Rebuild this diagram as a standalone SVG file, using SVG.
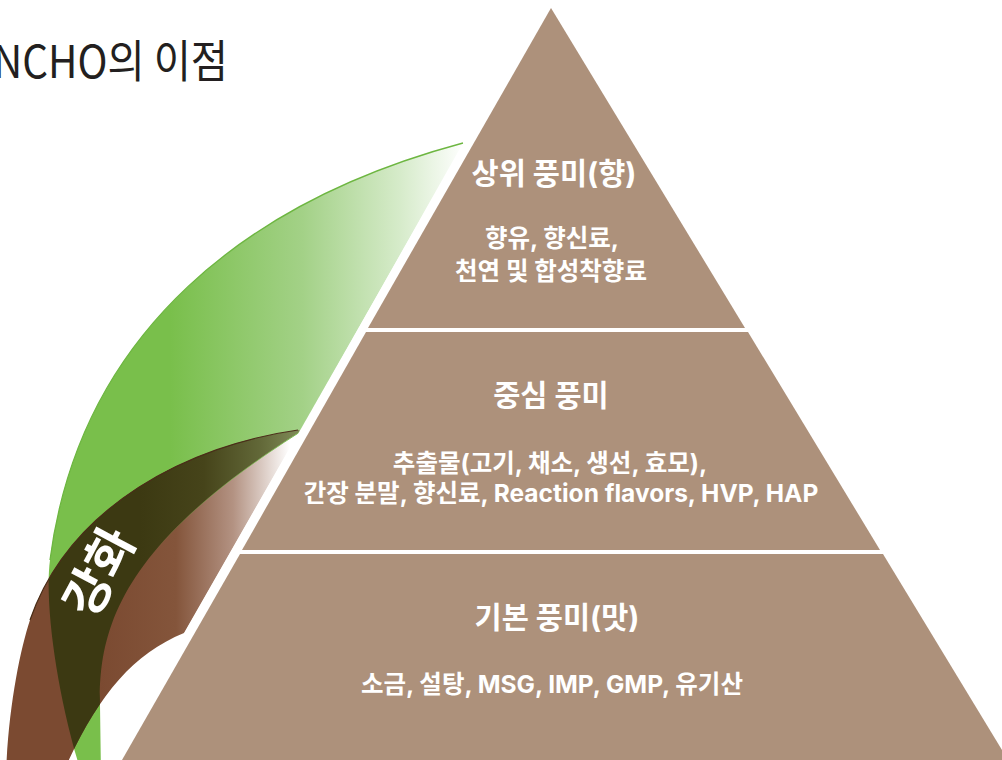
<svg xmlns="http://www.w3.org/2000/svg" width="1002" height="760" viewBox="0 0 1002 760">
  <defs>
    <style>
      .tier { fill: #ad917b; }
      .hd { font-family: Inter, "Noto Sans CJK KR", sans-serif; font-weight: 700; font-size: 29.5px; fill: #ffffff; text-anchor: middle; }
      .bd { font-family: Inter, "Noto Sans CJK KR", sans-serif; font-weight: 700; font-size: 24.5px; fill: #ffffff; text-anchor: middle; }
      .title { font-family: "Noto Sans CJK KR", "Noto Sans", sans-serif; font-weight: 400; font-size: 45px; fill: #231f20; }
      .tag { font-family: "Noto Sans CJK KR", sans-serif; font-weight: 700; font-size: 50px; fill: #ffffff; text-anchor: middle; }
    </style>
    <clipPath id="stripe">
      <polygon points="0,0 545.6,0 112,760 0,760"/>
    </clipPath>
    <clipPath id="greenClip">
      <path d="M463,143 C250,200 80,330 50,560 C44,605 58,700 82,775 L101,775 L100,705 C98,620 130,540 300,432 Z"/>
    </clipPath>
    <linearGradient id="gGreen" gradientUnits="userSpaceOnUse" x1="170" y1="0" x2="465" y2="0">
      <stop offset="0" stop-color="#79bf4b"/>
      <stop offset="0.45" stop-color="#a3d187"/>
      <stop offset="0.78" stop-color="#d6ebca"/>
      <stop offset="1" stop-color="#ffffff"/>
    </linearGradient>
    <linearGradient id="gBrown" gradientUnits="userSpaceOnUse" x1="100" y1="0" x2="290" y2="0">
      <stop offset="0" stop-color="#7b4a31"/>
      <stop offset="0.4" stop-color="#84553b"/>
      <stop offset="0.7" stop-color="#b39282"/>
      <stop offset="1" stop-color="#ffffff"/>
    </linearGradient>
    <linearGradient id="gDark" gradientUnits="userSpaceOnUse" x1="140" y1="0" x2="300" y2="0">
      <stop offset="0" stop-color="#3c3912"/>
      <stop offset="0.4" stop-color="#46441a"/>
      <stop offset="0.75" stop-color="#626838"/>
      <stop offset="1" stop-color="#808c58"/>
    </linearGradient>
    <linearGradient id="gInner" gradientUnits="userSpaceOnUse" x1="150" y1="0" x2="300" y2="0">
      <stop offset="0" stop-color="#7cc050" stop-opacity="0"/>
      <stop offset="1" stop-color="#7cc050" stop-opacity="1"/>
    </linearGradient>
  </defs>

  <rect x="0" y="0" width="1002" height="760" fill="#ffffff"/>

  <g id="curves" clip-path="url(#stripe)">
    <g id="leaf-green">
      <path d="M463,143 C250,200 80,330 50,560 C44,605 58,700 82,775 L101,775 L100,705 C98,620 130,540 300,432 Z" fill="url(#gGreen)"/>
      <path d="M463,143 C250,200 80,330 50,560" fill="none" stroke="#6db641" stroke-width="1.3"/>
    </g>
    <g id="leaf-brown">
      <path d="M298,430 C190,445 70,505 30,620 C20,650 8,710 6,775 L62,775 C95,700 130,655 184,633 L300,430 Z" fill="url(#gBrown)"/>
      <path d="M298,430 C190,445 70,505 30,620 C20,650 8,710 6,775 L62,775 C95,700 130,655 184,633 L300,430 Z" fill="url(#gDark)" clip-path="url(#greenClip)"/>
      <path d="M100,705 C98,620 130,540 300,432" fill="none" stroke="url(#gInner)" stroke-width="1"/>
      <path d="M298,430 C190,445 70,505 30,620" fill="none" stroke="#4a2e18" stroke-width="1.2"/>
    </g>
  </g>

  <g id="label-ganghwa">
    <text class="tag" transform="translate(99,572) rotate(-62)" dy="0.36em">강화</text>
  </g>

  <g id="tier-top">
    <polygon class="tier" points="551,8 368,328 745,328"/>
    <text class="hd" x="554" y="184">상위 풍미(향)</text>
    <text class="bd" x="552" y="247">향유, 향신료,</text>
    <text class="bd" x="551" y="280">천연 및 합성착향료</text>
  </g>

  <g id="tier-middle">
    <polygon class="tier" points="366,332 748,332 880,550 242,550"/>
    <text class="hd" x="551" y="406">중심 풍미</text>
    <text class="bd" x="550" y="472">추출물(고기, 채소, 생선, 효모),</text>
    <text class="bd" x="561" y="502">간장 분말, 향신료, Reaction flavors, HVP, HAP</text>
  </g>

  <g id="tier-bottom">
    <polygon class="tier" points="240,554 883,554 1008,760 122,760"/>
    <text class="hd" x="557" y="628">기본 풍미(맛)</text>
    <text class="bd" x="552" y="693">소금, 설탕, MSG, IMP, GMP, 유기산</text>
  </g>

  <g id="title">
    <text class="title" x="-7" y="78" textLength="235" lengthAdjust="spacingAndGlyphs">NCHO의 이점</text>
  </g>

  <g id="connectors"/>
</svg>
